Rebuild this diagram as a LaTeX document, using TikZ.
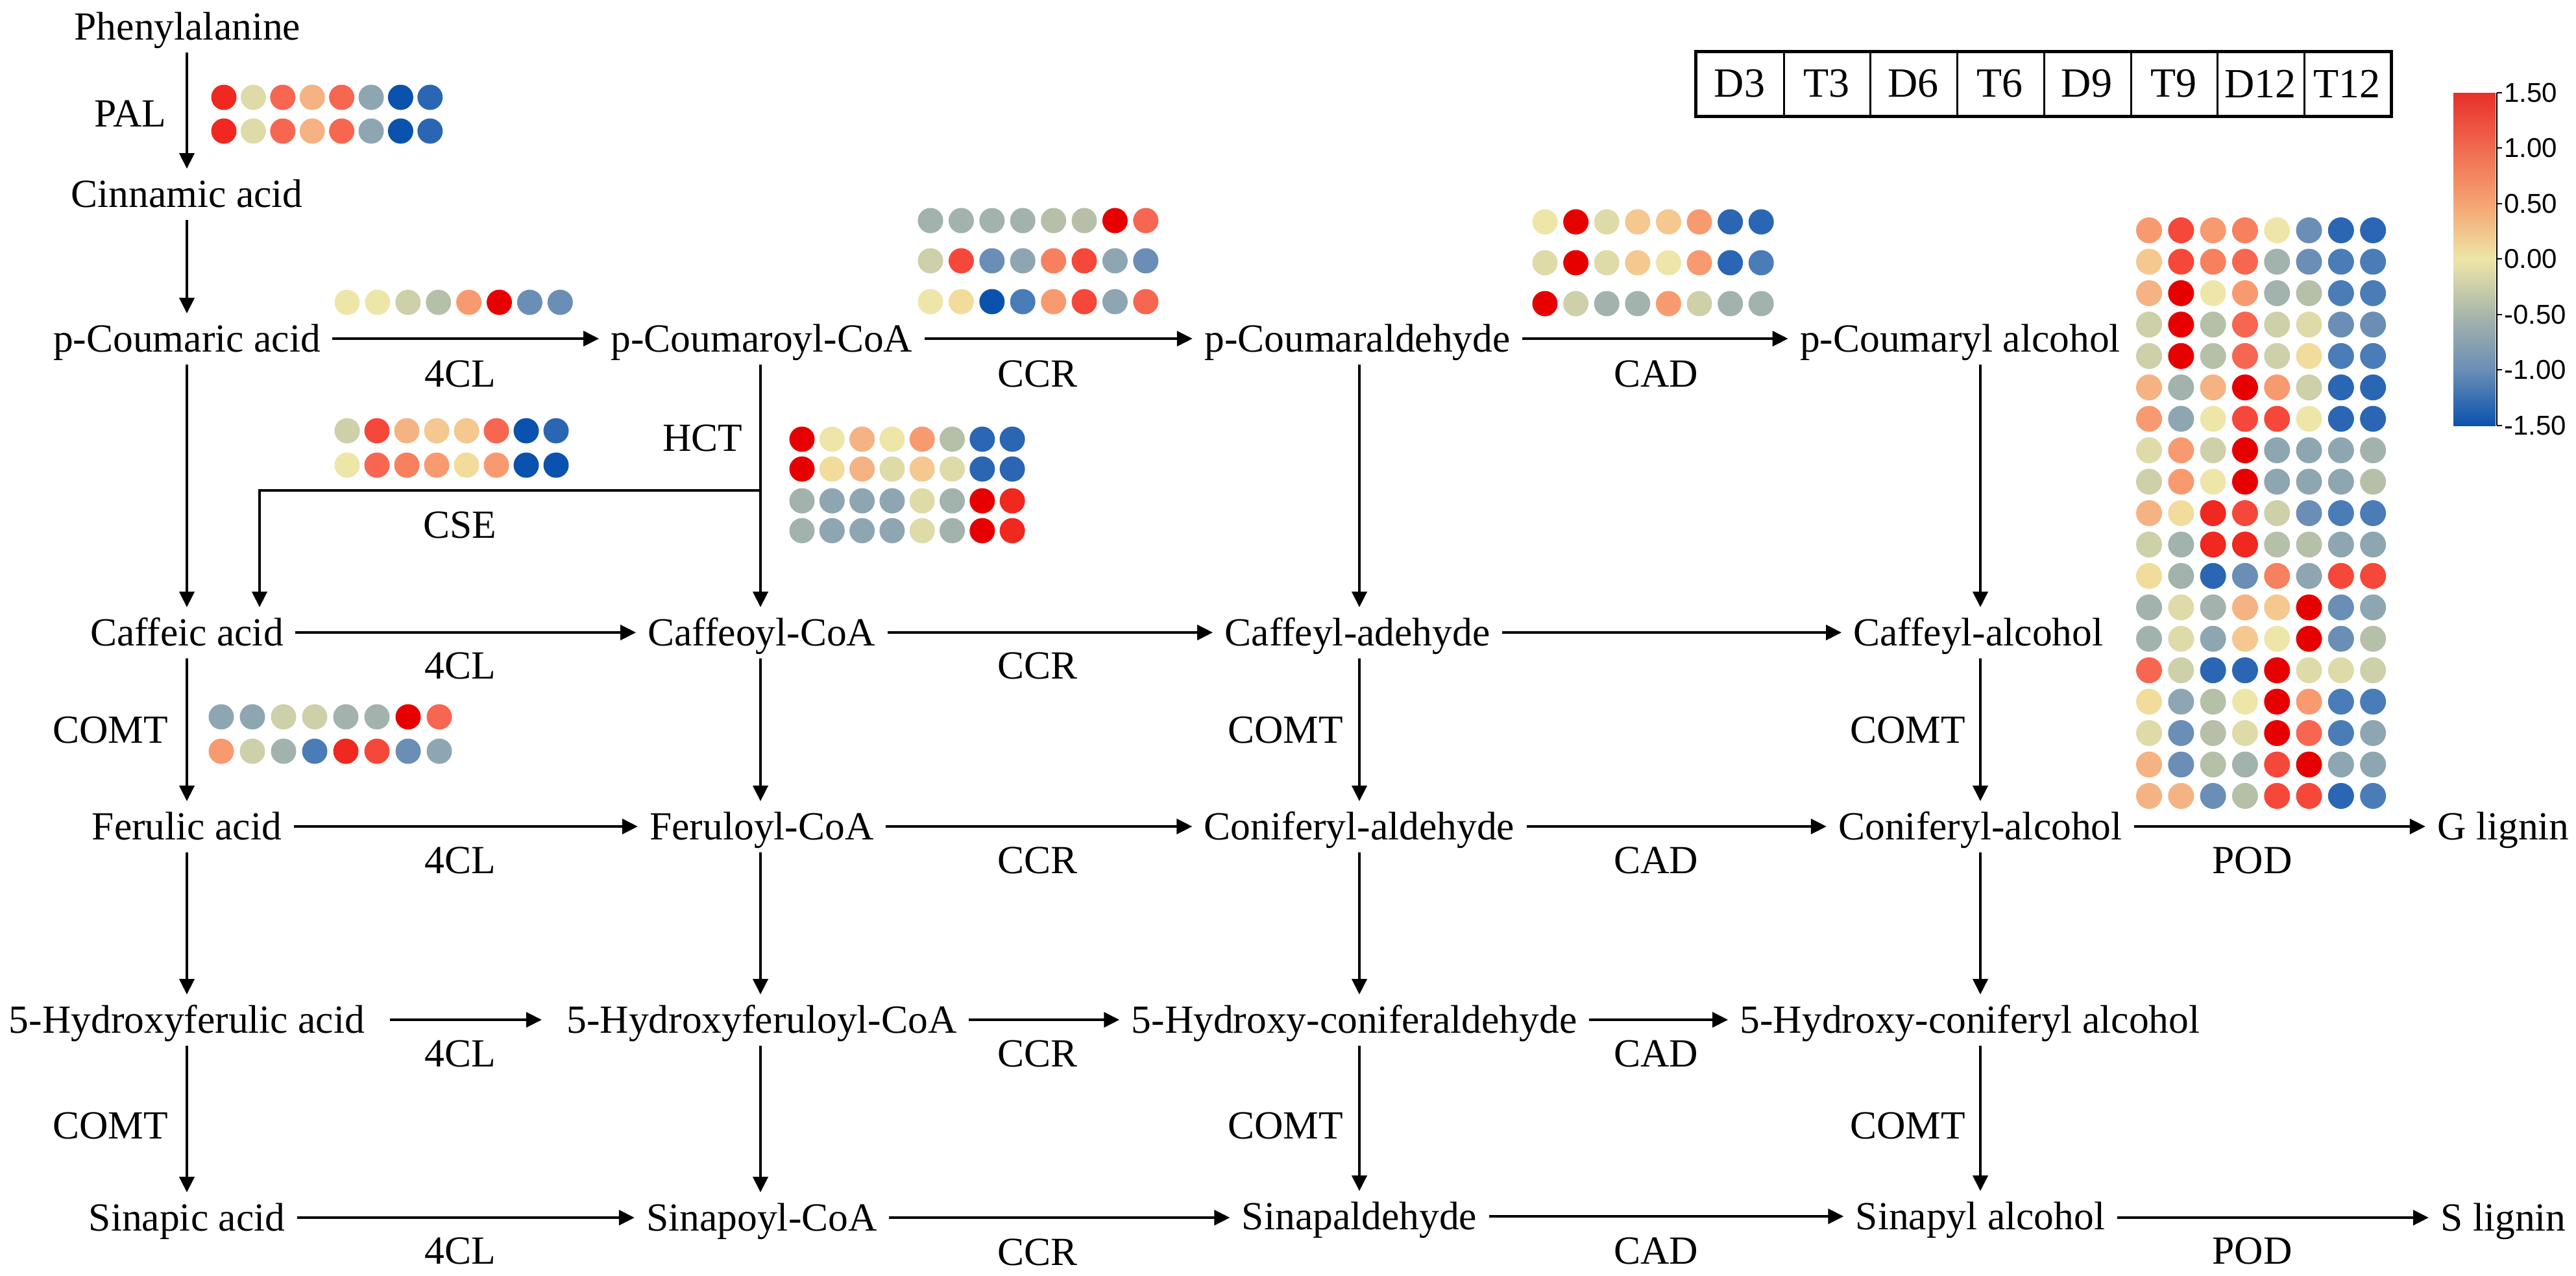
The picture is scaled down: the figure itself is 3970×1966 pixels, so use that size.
\documentclass[tikz,border=0pt]{standalone}
\usepackage{fontspec}
\setmainfont{Liberation Serif}
\newfontfamily\barfont{Liberation Sans}
\usetikzlibrary{arrows.meta,calc}

\definecolor{cR}{HTML}{E60000}
\definecolor{cQ}{HTML}{F02820}
\definecolor{cP}{HTML}{F5483A}
\definecolor{cN}{HTML}{F76650}
\definecolor{cM}{HTML}{F7805F}
\definecolor{cL}{HTML}{F89A70}
\definecolor{cK}{HTML}{F5B282}
\definecolor{cJ}{HTML}{F4C88E}
\definecolor{cI}{HTML}{F2DC9C}
\definecolor{cH}{HTML}{EEE6A8}
\definecolor{cG}{HTML}{DEDBA8}
\definecolor{cF}{HTML}{CDD0A8}
\definecolor{cE}{HTML}{B6C0A8}
\definecolor{cD}{HTML}{A2B2AC}
\definecolor{cC}{HTML}{8EA6B2}
\definecolor{cB}{HTML}{6A8EB6}
\definecolor{cA}{HTML}{4A7CB8}
\definecolor{cZ}{HTML}{2A66B4}
\definecolor{cY}{HTML}{0A52AE}

\definecolor{kA}{HTML}{E8302A}
\definecolor{kB}{HTML}{F06A50}
\definecolor{kC}{HTML}{F5A472}
\definecolor{kD}{HTML}{EEE6A8}
\definecolor{kE}{HTML}{A8B6AA}
\definecolor{kF}{HTML}{6A8EB6}
\definecolor{kG}{HTML}{0A52AE}

\newcommand{\dotrow}[5]{%
  \foreach \cc [count=\ii from 0] in {#5} {
    \fill[fill=c\cc] ({#1+\ii*#2},#3) circle[radius=#4];
  }%
}

\begin{document}
\begin{tikzpicture}[x=0.2pt,y=-0.2pt,
  txt/.style={font=\fontsize{12.3pt}{14pt}\selectfont, inner xsep=3.5pt, inner ysep=0pt, text height=8pt, text depth=0pt, anchor=base},
  lbl/.style={font=\fontsize{12.3pt}{14pt}\selectfont, inner sep=0pt, anchor=base},
  arr/.style={line width=0.85pt, -{Triangle[length=4.8pt,width=4.6pt]}},
  varr/.style={arr, shorten <=3.8pt, shorten >=3.6pt},
  legcell/.style={minimum width=26.8pt, minimum height=19.6pt, inner sep=0pt, font=\fontsize{12.8pt}{15pt}\selectfont},
  barlbl/.style={anchor=west, inner sep=0pt, font=\barfont\fontsize{8.4pt}{10pt}\selectfont}
]
\useasboundingbox (0,0) rectangle (3970,1966);

% column coordinates
\coordinate (colA) at (288,0);
\coordinate (colB) at (1172,0);
\coordinate (colC) at (2095,0);
\coordinate (colD) at (3052,0);

% compounds
\node[txt] (phe) at (289,61) {Phenylalanine};
\node[txt] (cin) at (288,319) {Cinnamic acid};
\node[txt] (pca) at (288,542) {p-Coumaric acid};
\node[txt] (pcc) at (1174,542) {p-Coumaroyl-CoA};
\node[txt] (pcald) at (2092,542) {p-Coumaraldehyde};
\node[txt] (pcalc) at (3021,542) {p-Coumaryl alcohol};
\node[txt] (caf) at (288,995) {Caffeic acid};
\node[txt] (cafc) at (1174,995) {Caffeoyl-CoA};
\node[txt] (cafald) at (2092,995) {Caffeyl-adehyde};
\node[txt] (cafalc) at (3049,995) {Caffeyl-alcohol};
\node[txt] (fer) at (288,1294) {Ferulic acid};
\node[txt] (ferc) at (1174,1294) {Feruloyl-CoA};
\node[txt] (conald) at (2095,1294) {Coniferyl-aldehyde};
\node[txt] (conalc) at (3052,1294) {Coniferyl-alcohol};
\node[txt] (glig) at (3858,1294) {G lignin};
\node[txt] (hfer) at (288,1592) {5-Hydroxyferulic acid};
\node[txt] (hferc) at (1174,1592) {5-Hydroxyferuloyl-CoA};
\node[txt] (hconald) at (2087,1592) {5-Hydroxy-coniferaldehyde};
\node[txt] (hconalc) at (3036,1592) {5-Hydroxy-coniferyl alcohol};
\node[txt] (sin) at (288,1897) {Sinapic acid};
\node[txt] (sinc) at (1174,1897) {Sinapoyl-CoA};
\node[txt] (sinald) at (2095,1895) {Sinapaldehyde};
\node[txt] (sinalc) at (3052,1895) {Sinapyl alcohol};
\node[txt] (slig) at (3858,1897) {S lignin};

% enzyme labels
\node[lbl] (pal) at (201,195) {PAL};
\node[lbl] (e4a) at (709,596) {4CL};
\node[lbl] (cca) at (1599,596) {CCR};
\node[lbl] (cda) at (2552,596) {CAD};
\node[lbl] (hct) at (1083,695) {HCT};
\node[lbl] (cse) at (709,829) {CSE};
\node[lbl] (e4b) at (709,1046) {4CL};
\node[lbl] (ccb) at (1599,1046) {CCR};
\node[lbl] (cma) at (170,1145) {COMT};
\node[lbl] (cmb) at (1981,1145) {COMT};
\node[lbl] (cmc) at (2940,1145) {COMT};
\node[lbl] (e4c) at (709,1346) {4CL};
\node[lbl] (ccc) at (1599,1346) {CCR};
\node[lbl] (cdc) at (2552,1346) {CAD};
\node[lbl] (pda) at (3471,1346) {POD};
\node[lbl] (e4d) at (709,1644) {4CL};
\node[lbl] (ccd) at (1599,1644) {CCR};
\node[lbl] (cdd) at (2552,1644) {CAD};
\node[lbl] (cmd) at (170,1755) {COMT};
\node[lbl] (cme) at (1981,1755) {COMT};
\node[lbl] (cmf) at (2940,1755) {COMT};
\node[lbl] (e4e) at (709,1948) {4CL};
\node[lbl] (cce) at (1599,1950) {CCR};
\node[lbl] (cde) at (2552,1948) {CAD};
\node[lbl] (pdb) at (3471,1948) {POD};

% vertical arrows
\draw[varr] (phe.south -| colA) -- (cin.north -| colA);
\draw[varr] (cin.south -| colA) -- (pca.north -| colA);
\draw[varr] (pca.south -| colA) -- (caf.north -| colA);
\draw[varr] (caf.south -| colA) -- (fer.north -| colA);
\draw[varr] (fer.south -| colA) -- (hfer.north -| colA);
\draw[varr] (hfer.south -| colA) -- (sin.north -| colA);

\draw[varr] (pcc.south -| colB) -- (cafc.north -| colB);
\draw[varr] (cafc.south -| colB) -- (ferc.north -| colB);
\draw[varr] (ferc.south -| colB) -- (hferc.north -| colB);
\draw[varr] (hferc.south -| colB) -- (sinc.north -| colB);

\draw[varr] (pcald.south -| colC) -- (cafald.north -| colC);
\draw[varr] (cafald.south -| colC) -- (conald.north -| colC);
\draw[varr] (conald.south -| colC) -- (hconald.north -| colC);
\draw[varr] (hconald.south -| colC) -- (sinald.north -| colC);

\draw[varr] (pcalc.south -| colD) -- (cafalc.north -| colD);
\draw[varr] (cafalc.south -| colD) -- (conalc.north -| colD);
\draw[varr] (conalc.south -| colD) -- (hconalc.north -| colD);
\draw[varr] (hconalc.south -| colD) -- (sinalc.north -| colD);

% horizontal arrows
\draw[arr] (pca) -- (pcc);
\draw[arr] (pcc) -- (pcald);
\draw[arr] (pcald) -- (pcalc);
\draw[arr] (caf) -- (cafc);
\draw[arr] (cafc) -- (cafald);
\draw[arr] (cafald) -- (cafalc);
\draw[arr] (fer) -- (ferc);
\draw[arr] (ferc) -- (conald);
\draw[arr] (conald) -- (conalc);
\draw[arr] (conalc) -- (glig);
\draw[arr, shorten <=4pt, shorten >=4pt] (hfer) -- (hferc);
\draw[arr] (hferc) -- (hconald);
\draw[arr] (hconald) -- (hconalc);
\draw[arr] (sin) -- (sinc);
\draw[arr] (sinc) -- (sinald.west |- sinc.east);
\draw[arr] (sinald) -- (sinalc);
\draw[arr] (sinalc.east |- slig.west) -- (slig);

% CSE branch
\coordinate (cseJ) at (1172,756);
\coordinate (cseK) at (400,756);
\draw[arr, shorten >=3.6pt] (cseJ) -- (cseK) -- (caf.north -| cseK);

% heat dots
\dotrow{345}{45.4}{150}{19.5}{Q,G,N,K,N,C,Y,Z}
\dotrow{345}{45.4}{202}{19.5}{Q,G,N,K,N,C,Y,Z}

\dotrow{535}{46.9}{466}{19.5}{H,H,F,E,L,R,B,B}

\dotrow{1434}{47.4}{340}{19.5}{D,D,D,D,E,E,R,N}
\dotrow{1434}{47.4}{402}{19.5}{F,P,B,C,M,P,C,B}
\dotrow{1434}{47.4}{465}{19.5}{H,I,Y,A,L,P,C,N}

\dotrow{2381}{47.6}{342}{19.5}{H,R,G,J,J,L,Z,Z}
\dotrow{2381}{47.6}{405}{19.5}{G,R,G,J,H,L,Z,A}
\dotrow{2381}{47.6}{468}{19.5}{R,F,D,D,L,F,D,D}

\dotrow{535}{46}{664}{19.5}{F,P,K,J,J,N,Y,Z}
\dotrow{535}{46}{717}{19.5}{H,N,M,L,I,L,Y,Y}

\dotrow{1236}{46.3}{677}{19.5}{R,H,K,H,L,E,Z,Z}
\dotrow{1236}{46.3}{723}{19.5}{R,I,K,G,J,G,Z,Z}
\dotrow{1236}{46.3}{772}{19.5}{D,C,C,C,G,D,R,Q}
\dotrow{1236}{46.3}{818}{19.5}{D,C,C,C,G,D,R,Q}

\dotrow{341}{48}{1105}{19.5}{C,C,F,F,D,D,R,N}
\dotrow{341}{48}{1158}{19.5}{L,F,D,A,Q,P,B,C}

% POD matrix
\dotrow{3312}{49.3}{355.0}{20}{L,P,L,M,H,B,Z,Z}
\dotrow{3312}{49.3}{403.4}{20}{J,P,M,N,D,B,A,A}
\dotrow{3312}{49.3}{451.9}{20}{K,R,H,L,D,E,A,A}
\dotrow{3312}{49.3}{500.3}{20}{F,R,E,N,F,G,B,B}
\dotrow{3312}{49.3}{548.8}{20}{F,R,E,N,F,I,A,A}
\dotrow{3312}{49.3}{597.2}{20}{K,D,K,R,L,F,Z,Z}
\dotrow{3312}{49.3}{645.6}{20}{L,C,H,P,P,H,Z,Z}
\dotrow{3312}{49.3}{694.1}{20}{G,L,F,R,C,C,C,D}
\dotrow{3312}{49.3}{742.5}{20}{F,L,H,R,C,C,C,E}
\dotrow{3312}{49.3}{791.0}{20}{K,I,Q,P,F,B,A,A}
\dotrow{3312}{49.3}{839.4}{20}{F,D,Q,Q,E,E,C,C}
\dotrow{3312}{49.3}{887.8}{20}{I,D,Z,B,M,C,P,P}
\dotrow{3312}{49.3}{936.3}{20}{D,G,D,K,J,R,B,C}
\dotrow{3312}{49.3}{984.7}{20}{D,G,C,J,H,R,B,E}
\dotrow{3312}{49.3}{1033.2}{20}{N,F,Z,Z,R,G,G,F}
\dotrow{3312}{49.3}{1081.6}{20}{I,C,E,H,R,L,A,A}
\dotrow{3312}{49.3}{1130.0}{20}{G,B,E,G,R,N,A,C}
\dotrow{3312}{49.3}{1178.5}{20}{K,B,E,D,P,R,C,C}
\dotrow{3312}{49.3}{1226.9}{20}{K,K,B,E,P,P,Z,A}

% legend cells
\foreach \t [count=\i from 0] in {D3,T3,D6,T6,D9,T9,D12,T12} {
  \node[legcell] (leg\i) at ({2681+\i*133.75},129) {\t};
}
\foreach \i in {0,...,6} {
  \draw[line width=0.6pt] (leg\i.north east) -- (leg\i.south east);
}
\draw[line width=1pt] (leg0.north west) rectangle (leg7.south east);

% colour bar
\shade[top color=kA, bottom color=kB] (3781,143) rectangle (3846,229);
\shade[top color=kB, bottom color=kC] (3781,228) rectangle (3846,315);
\shade[top color=kC, bottom color=kD] (3781,314) rectangle (3846,400);
\shade[top color=kD, bottom color=kE] (3781,399) rectangle (3846,486);
\shade[top color=kE, bottom color=kF] (3781,485) rectangle (3846,571);
\shade[top color=kF, bottom color=kG] (3781,570) rectangle (3846,656);
\draw[line width=0.5pt] (3848,143) -- (3848,656);
\foreach \yy/\lab [count=\k] in {143/1.50,228/1.00,314/0.50,399/0.00,485/-0.50,570/-1.00,656/-1.50} {
  \draw[line width=0.5pt] (3848,\yy) -- (3856,\yy);
  \node[barlbl] (bl\k) at (3858,\yy) {\lab};
}
\end{tikzpicture}
\end{document}
